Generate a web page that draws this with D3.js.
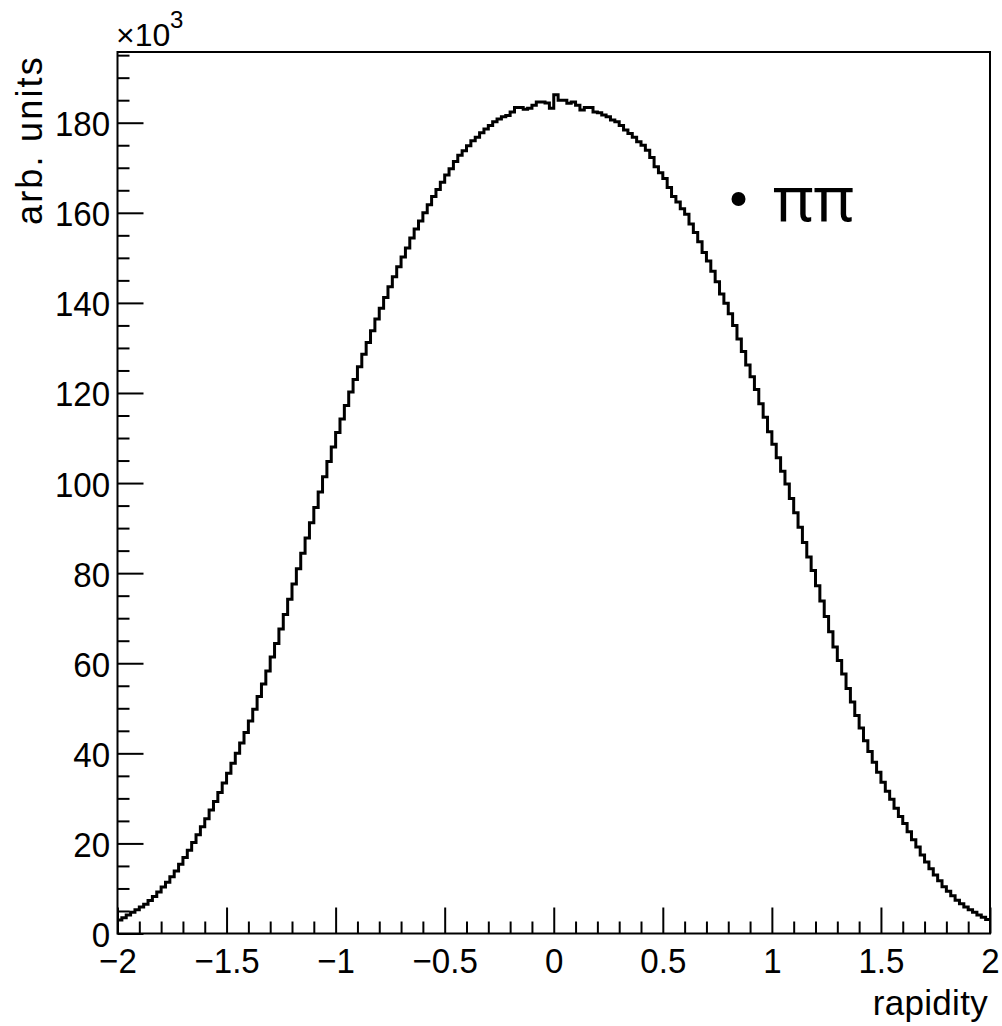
<!DOCTYPE html>
<html><head><meta charset="utf-8">
<script src="https://cdn.jsdelivr.net/npm/d3@7"></script>
<style>body{margin:0;background:#fff}svg{display:block}</style>
</head><body>
<svg id="c" width="1002" height="1026"></svg>
<script>
// ---- data (values in units of 10^3) ----
const xRange = [-2, 2];
const yRange = [0, 195.7];
const nBins = 200;
const countsNeg = [
3.0,3.5,4.1,4.7,5.3,5.9,6.5,7.3,8.2,9.2,
10.3,11.4,12.6,13.9,15.4,16.9,18.5,20.2,21.9,23.7,
25.5,27.4,29.3,31.3,33.4,35.6,37.8,40.0,42.3,44.6,
47.2,49.8,52.6,55.4,58.3,61.4,64.4,67.6,70.8,74.2,
77.6,81.0,84.4,87.8,91.2,94.6,98.0,101.4,104.8,108.0,
111.2,114.2,117.2,120.2,123.0,125.8,128.6,131.2,133.8,136.4,
138.8,141.2,143.6,145.8,148.0,150.2,152.2,154.4,156.4,158.2,
160.0,161.8,163.6,165.2,166.8,168.4,169.8,171.4,172.8,173.8,
174.9,176.0,176.8,177.8,178.6,179.4,180.2,180.8,181.3,181.6,
182.4,183.4,183.4,183.0,183.2,183.9,184.6,184.6,184.4,183.2
];
const countsPos = [
186.2,185.0,185.0,184.3,184.6,183.9,182.8,183.4,183.4,182.4,
182.2,181.7,181.3,180.6,180.2,179.4,178.4,177.6,176.8,175.8,
175.0,173.9,172.3,170.2,168.9,167.6,165.6,163.6,162.4,160.9,
159.7,157.5,155.6,153.6,151.2,149.3,147.0,144.7,142.0,139.9,
137.6,135.0,132.0,129.2,126.2,123.6,120.8,117.6,114.6,111.4,
108.6,105.6,102.6,99.8,96.6,93.4,90.2,86.8,83.6,80.6,
77.2,73.8,70.4,67.0,63.6,60.6,57.6,54.4,51.4,48.4,
45.6,42.8,40.4,38.0,35.8,33.6,31.6,29.8,27.8,26.0,
24.4,22.6,20.8,19.2,17.4,15.9,14.4,13.0,11.7,10.4,
9.4,8.4,7.4,6.6,5.9,5.3,4.7,4.1,3.6,3.1
];
const counts = countsNeg.concat(countsPos);
const xMajorTicks = [-2, -1.5, -1, -0.5, 0, 0.5, 1, 1.5, 2];
const yMajorTicks = [0, 20, 40, 60, 80, 100, 120, 140, 160, 180];
const xTitle = "rapidity";
const yTitle = "arb. units";
const expBase = "\u00d710";
const expPow = "3";
const legendLabel = "\u03c0\u03c0";

// ---- layout ----
const L = 117.5, R = 990, T = 52, B = 933.5;
const svg = d3.select("#c");
svg.append("rect").attr("width", 1002).attr("height", 1026).attr("fill", "#fff");

const x = d3.scaleLinear().domain(xRange).range([L, R]);
const y = d3.scaleLinear().domain(yRange).range([B, T]);

const font = "'Liberation Sans', Arial, Helvetica, sans-serif";
const fmt = d => String(d).replace("-", "\u2212");

// minor ticks
const xMinor = d3.range(-20, 21).map(i => i / 10).filter(v => !xMajorTicks.some(m => Math.abs(m - v) < 1e-9));
const yMinor = d3.range(0, 40).map(i => i * 5).filter(v => v <= yRange[1] && v % 20 !== 0);

function styleAxis(g) {
  g.select(".domain").remove();
  g.selectAll("line").attr("stroke", "#000").attr("stroke-width", 2);
  g.selectAll("text").attr("font-family", font).attr("font-size", 36)
    .attr("fill", "#000").attr("transform", "scale(0.92,1)");
}

// x axis
svg.append("g").attr("transform", `translate(0,${B})`)
  .call(d3.axisBottom(x).tickValues(xMinor).tickSize(-12).tickFormat(""))
  .call(styleAxis);
svg.append("g").attr("transform", `translate(0,${B})`)
  .call(d3.axisBottom(x).tickValues(xMajorTicks).tickSize(-26).tickPadding(14).tickFormat(fmt))
  .call(styleAxis);

// y axis
svg.append("g").attr("transform", `translate(${L},0)`)
  .call(d3.axisLeft(y).tickValues(yMinor).tickSize(-12).tickFormat(""))
  .call(styleAxis);
const gy = svg.append("g").attr("transform", `translate(${L},0)`)
  .call(d3.axisLeft(y).tickValues(yMajorTicks).tickSize(-26).tickPadding(8).tickFormat(fmt))
  .call(styleAxis);
gy.selectAll("text").attr("dy", "0.36em");

// frame
svg.append("rect").attr("x", L).attr("y", T).attr("width", R - L).attr("height", B - T)
  .attr("fill", "none").attr("stroke", "#000").attr("stroke-width", 2);

// histogram
const binW = (xRange[1] - xRange[0]) / nBins;
const pts = counts.map((v, i) => [xRange[0] + i * binW, v]);
pts.push([xRange[1], counts[counts.length - 1]]);
const line = d3.line().x(d => x(d[0])).y(d => y(d[1])).curve(d3.curveStepAfter);
svg.append("path").attr("d", line(pts)).attr("fill", "none")
  .attr("stroke", "#000").attr("stroke-width", 3).attr("stroke-linejoin", "miter");

// titles
svg.append("text").attr("x", 988).attr("y", 1015).attr("text-anchor", "end")
  .attr("font-family", font).attr("font-size", 35).attr("letter-spacing", 0.3).text(xTitle);
svg.append("text").attr("transform", "translate(42,55) rotate(-90)").attr("text-anchor", "end")
  .attr("font-family", font).attr("font-size", 36).attr("letter-spacing", 2.2).text(yTitle);

// exponent
svg.append("text").attr("x", 116).attr("y", 46).attr("font-family", font).attr("font-size", 32).text(expBase);
svg.append("text").attr("x", 170).attr("y", 28).attr("font-family", font).attr("font-size", 24).text(expPow);

// legend
svg.append("circle").attr("cx", 738.5).attr("cy", 199).attr("r", 7).attr("fill", "#000");
svg.append("text").attr("x", 773).attr("y", 221).attr("font-family", "'Noto Sans', 'DejaVu Sans', sans-serif")
  .attr("font-size", 62).text(legendLabel);
</script>
</body></html>
